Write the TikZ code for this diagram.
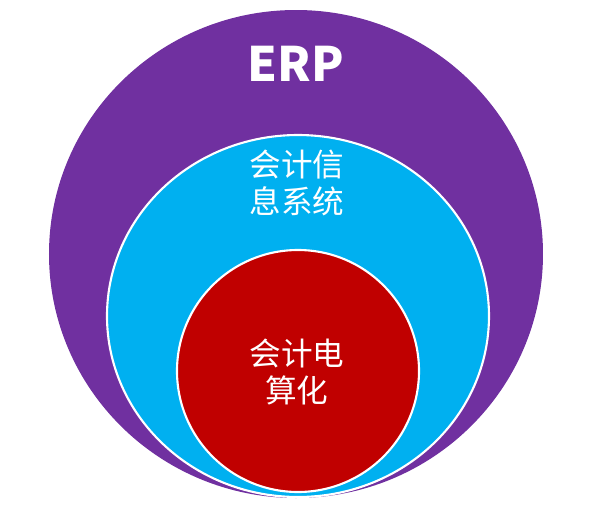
\documentclass[tikz,border=0pt]{standalone}
\usepackage{fontspec}
\newfontfamily\cjk{Noto Sans CJK SC}
\definecolor{erppurple}{HTML}{7030A0}
\definecolor{aiscyan}{HTML}{00B0F0}
\definecolor{acred}{HTML}{C00000}
\begin{document}
\begin{tikzpicture}[x=0.02cm, y=-0.02cm,
  ring/.style={draw=white, line width=1.2pt},
  lbl/.style={text=white, align=center, font=\cjk\fontsize{18}{21.5}\selectfont}]
\useasboundingbox (0,0) rectangle (600,508);
% nested sets
\fill[erppurple] (296,254) ellipse [x radius=247, y radius=244];
\filldraw[ring, fill=aiscyan] (298,316) ellipse [x radius=191, y radius=181];
\filldraw[ring, fill=acred] (298,371) ellipse [x radius=121, y radius=121];
% labels
\node[lbl, font=\cjk\bfseries\fontsize{27}{32}\selectfont] (erp) at (296,64) {ERP};
\node[lbl] (ais) at (297,183) {会计信\\息系统};
\node[lbl] (ac) at (297,372) {会计电\\算化};
\end{tikzpicture}
\end{document}
